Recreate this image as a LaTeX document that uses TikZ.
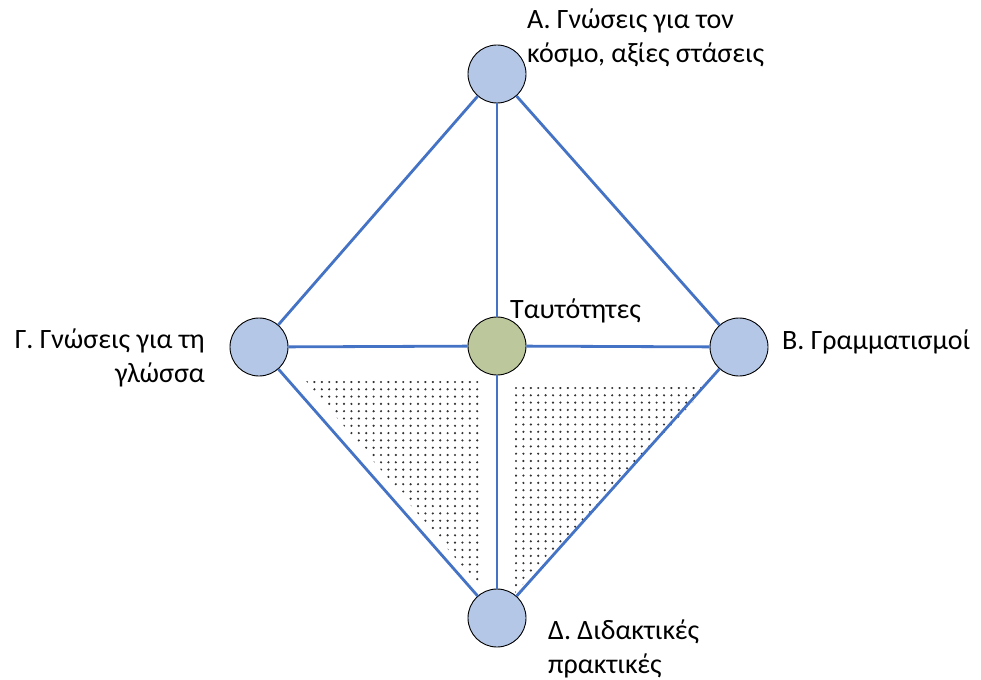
\documentclass[tikz,border=0pt]{standalone}
\usepackage{fontspec}
\setmainfont{Carlito}
\definecolor{lineblue}{HTML}{4472C4}
\definecolor{circblue}{HTML}{B4C7E7}
\definecolor{circgreen}{HTML}{BCC89B}
\definecolor{dotgray}{HTML}{333333}
\begin{document}
\begin{tikzpicture}[x=1pt,y=-1pt,
  vertex/.style={circle,draw=black,line width=0.9pt,fill=circblue,minimum size=58pt,inner sep=0pt},
  edge/.style={draw=lineblue,line width=2.8pt},
  lbl/.style={inner sep=0pt,font=\fontsize{28}{34}\selectfont},
  dotmark/.style={fill=dotgray}]
\useasboundingbox (0,0) rectangle (981,679);
% dotted triangles
\begin{scope}
  \clip (306,381) -- (483,381) -- (483,591) -- cycle;
  \foreach \i in {0,...,24}{
    \foreach \j in {0,...,29}{
      \fill[dotmark] ({307+7.4*\i},{382+7.3*\j}) circle (1.2);
    }
  }
\end{scope}
\begin{scope}
  \clip (515,387) -- (707,387) -- (515,593) -- cycle;
  \foreach \i in {0,...,26}{
    \foreach \j in {0,...,29}{
      \fill[dotmark] ({516+7.4*\i},{388+7.3*\j}) circle (1.2);
    }
  }
\end{scope}
% circles
\node[vertex] (a) at (497,74) {};
\node[vertex] (c) at (259,347) {};
\node[vertex] (b) at (739,347) {};
\node[vertex] (d) at (497,618) {};
\node[vertex,fill=circgreen] (t) at (497,346) {};
% connectors
\path[edge] (a) -- (c);
\path[edge] (a) -- (b);
\path[edge] (a) -- (t);
\path[edge] (t) -- (d);
\path[edge] (c) -- (t);
\path[edge] (t) -- (b);
\path[edge] (c) -- (d);
\path[edge] (b) -- (d);
% labels
\node[lbl,anchor=base west,align=left] (la) at (527,63) {Α. Γνώσεις για τον\\κόσμο, αξίες στάσεις};
\node[lbl,anchor=base west] (lt) at (510,318) {Ταυτότητες};
\node[lbl,anchor=base west] (lb) at (782,349) {Β. Γραμματισμοί};
\node[lbl,anchor=base east,align=right] (lc) at (205,382) {Γ. Γνώσεις για τη\\γλώσσα};
\node[lbl,anchor=base west,align=left] (ld) at (548,673) {Δ. Διδακτικές\\πρακτικές};
\end{tikzpicture}
\end{document}
